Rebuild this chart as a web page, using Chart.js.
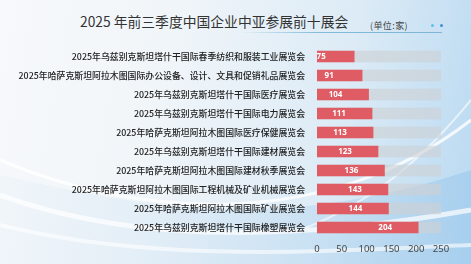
<!DOCTYPE html>
<html>
<head>
<meta charset="utf-8">
<script src="https://cdn.jsdelivr.net/npm/chart.js@4.4.1/dist/chart.umd.min.js"></script>
<style>
  html, body { margin:0; padding:0; }
  body { width:471px; height:264px; position:relative; overflow:hidden;
    background: linear-gradient(100deg, #f7f9fb 0%, #f0f5f9 35%, #dcebf6 70%, #b9d9f1 100%);
    font-family: "Noto Sans CJK SC", "Noto Sans", sans-serif; }
  #bg { position:absolute; left:0; top:0; }
  #title { position:absolute; left:80px; top:11px; font-size:13.8px; color:#333; white-space:nowrap; }
  #unit { position:absolute; left:370px; top:19px; font-size:9px; color:#444; white-space:nowrap; letter-spacing:0.4px; }
  .dot { position:absolute; top:24px; width:3px; height:3px; border-radius:50%; }
  #rule { position:absolute; left:240px; top:32px; width:202px; height:1px;
    background: linear-gradient(90deg, rgba(120,180,215,0) 0%, rgba(120,180,215,0.9) 40%, #7fb6d8 100%); }
  #wrap { position:absolute; left:0; top:0; width:471px; height:264px; }
</style>
</head>
<body>
<svg id="bg" width="471" height="264">
  <defs>
    <linearGradient id="g1" x1="0" y1="0" x2="1" y2="0">
      <stop offset="0" stop-color="#cfe3f3" stop-opacity="0.3"/>
      <stop offset="1" stop-color="#8fc2ea" stop-opacity="0.9"/>
    </linearGradient>
  </defs>
  <path d="M0,175 C120,200 260,240 471,170 L471,264 L0,264 Z" fill="url(#g1)" opacity="0.5"/>
  <path d="M0,160 C140,220 330,230 471,120" stroke="#ffffff" stroke-width="3" fill="none" opacity="0.8"/>
  <path d="M0,195 C150,250 330,235 471,210" stroke="#ffffff" stroke-width="5" fill="none" opacity="0.7"/>
  <path d="M0,225 C160,265 340,250 471,245" stroke="#ffffff" stroke-width="4" fill="none" opacity="0.6"/>
  <path d="M300,230 C380,200 430,150 471,100" stroke="#ffffff" stroke-width="2" fill="none" opacity="0.6"/>
</svg>
<div id="title">2025 年前三季度中国企业中亚参展前十展会</div>
<div id="unit">(单位:家)</div>
<div class="dot" style="left:421px;background:#bfeaf5"></div>
<div class="dot" style="left:431px;background:#5cc3ea"></div>
<div class="dot" style="left:440px;background:#3d8fe0"></div>
<div id="rule"></div>
<div id="wrap"><canvas id="c" width="471" height="264"></canvas></div>
<script>
const categories = [
  '2025年乌兹别克斯坦塔什干国际春季纺织和服装工业展览会',
  '2025年哈萨克斯坦阿拉木图国际办公设备、设计、文具和促销礼品展览会',
  '2025年乌兹别克斯坦塔什干国际医疗展览会',
  '2025年乌兹别克斯坦塔什干国际电力展览会',
  '2025年哈萨克斯坦阿拉木图国际医疗保健展览会',
  '2025年乌兹别克斯坦塔什干国际建材展览会',
  '2025年哈萨克斯坦阿拉木图国际建材秋季展览会',
  '2025年哈萨克斯坦阿拉木图国际工程机械及矿业机械展览会',
  '2025年哈萨克斯坦阿拉木图国际矿业展览会',
  '2025年乌兹别克斯坦塔什干国际橡塑展览会'
];
const counts = [75, 91, 104, 111, 113, 123, 136, 143, 144, 204];
const trackMax = [250, 250, 250, 250, 250, 250, 250, 250, 250, 250];
const xTicks = [0, 50, 100, 150, 200, 250];

const valueLabels = {
  id: 'valueLabels',
  afterDatasetsDraw(chart) {
    const ctx = chart.ctx;
    const meta = chart.getDatasetMeta(1);
    ctx.save();
    ctx.fillStyle = '#ffffff';
    ctx.font = 'bold 8px "Noto Sans", "DejaVu Sans", sans-serif';
    ctx.textAlign = 'center';
    ctx.textBaseline = 'middle';
    meta.data.forEach((bar, i) => {
      ctx.fillText(String(counts[i]), bar.x - 33, bar.y + 0.5);
    });
    ctx.restore();
  }
};

new Chart(document.getElementById('c'), {
  type: 'bar',
  data: {
    labels: categories,
    datasets: [
      { data: trackMax, backgroundColor: 'rgba(205,208,212,0.62)', grouped: false, barThickness: 11, order: 2 },
      { data: counts, backgroundColor: '#e05c65', grouped: false, barThickness: 11, order: 1 }
    ]
  },
  options: {
    indexAxis: 'y',
    responsive: false,
    animation: false,
    layout: { padding: { top: 47, right: 30, bottom: 0, left: 0 } },
    plugins: { legend: { display: false }, tooltip: { enabled: false }, title: { display: false } },
    scales: {
      y: {
        grid: { display: false, drawTicks: false },
        border: { display: false },
        ticks: { color: '#222', padding: 12, font: { size: 8.9, weight: '500', family: '"Noto Sans CJK SC", sans-serif' } },
        afterFit(scale) { scale.width = 317; }
      },
      x: {
        min: 0, max: 250,
        grid: { display: false, drawTicks: false },
        border: { display: false },
        afterBuildTicks(scale) { scale.ticks = xTicks.map(v => ({ value: v })); },
        ticks: { color: '#444', padding: 7, font: { size: 9.5, family: '"Noto Sans", sans-serif' } },
        afterFit(scale) { scale.height = 27; }
      }
    }
  },
  plugins: [valueLabels]
});
</script>
</body>
</html>
